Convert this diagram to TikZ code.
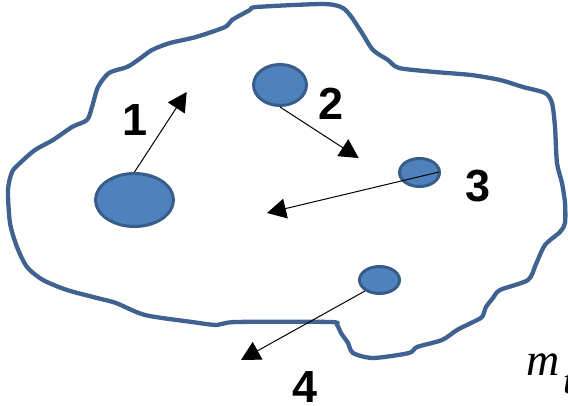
\documentclass[tikz,border=0pt]{standalone}
\usepackage{fontspec}
\setmainfont{Liberation Sans}
\newfontfamily\serifm{Liberation Serif}
\usetikzlibrary{arrows.meta,shapes.geometric}
\definecolor{outl}{HTML}{3F6290}
\definecolor{blobfill}{HTML}{4F81BD}
\definecolor{blobline}{HTML}{385D8A}
\tikzset{
  blob/.style={ellipse,draw=blobline,fill=blobfill,line width=3pt,inner sep=0pt},
  mover/.style={draw=black,line width=1pt,-{Triangle[length=19pt,width=20pt]}},
  num/.style={inner sep=0pt,font=\fontsize{45}{45}\selectfont\bfseries}
}
\begin{document}
\begin{tikzpicture}[x=1pt,y=-1pt]
\useasboundingbox (0,0) rectangle (568,406);
\draw[outl,line width=4.3pt,line join=round] plot[smooth cycle,tension=0.45] coordinates {
(257,7) (322,4) (341,7) (350,15) (362,33) (373,50) (388,60) (399,68) (435,72) (471,75)
(500,80) (523,87) (545,93) (552,103) (555,127) (557,163) (562,183) (565,203) (565,223)
(560,232) (545,245) (536,264) (528,280) (500,290) (493,298) (486,307) (482,317) (471,323)
(457,330) (442,340) (417,347) (409,353) (373,358) (353,353) (348,343) (341,333) (337,325)
(330,322) (236,322) (217,325) (192,322) (145,315) (116,303) (97,298) (67,290) (43,280)
(27,267) (17,247) (10,223) (8,190) (12,172) (20,163) (35,150) (53,140) (72,127) (87,120)
(92,107) (98,87) (109,73) (127,67) (138,60) (152,50) (170,43) (196,37) (225,27) (232,20) (250,10)};
\node[blob,minimum width=78pt,minimum height=53pt] (e1) at (134.5,200) {};
\node[blob,minimum width=53pt,minimum height=41pt] (e2) at (280,85) {};
\node[blob,minimum width=40pt,minimum height=28pt] (e3) at (419.5,172.5) {};
\node[blob,minimum width=40pt,minimum height=27pt] (e4) at (379.5,280) {};
\coordinate (t1) at (186.7,92);
\coordinate (t2) at (358.7,158);
\coordinate (t3) at (267,213);
\coordinate (t4) at (241,360);
\coordinate (s3) at (439,172);
\coordinate (s4) at (365,291);
\draw[mover] (e1.north) -- (t1);
\draw[mover] (e2.south) -- (t2);
\draw[mover] (s3) -- (t3);
\draw[mover] (s4) -- (t4);
\node[num] (l1) at (135.5,120) {1};
\node[num] (l2) at (331,103.5) {2};
\node[num] (l3) at (478,186.5) {3};
\node[num] (l4) at (305.5,387) {4};
\node[inner sep=0pt,anchor=base west,font=\serifm\itshape\fontsize{46}{46}\selectfont] (mt) at (526,375) {m\kern4pt\raisebox{-18pt}{\fontsize{38}{38}\selectfont t}};
\end{tikzpicture}
\end{document}
